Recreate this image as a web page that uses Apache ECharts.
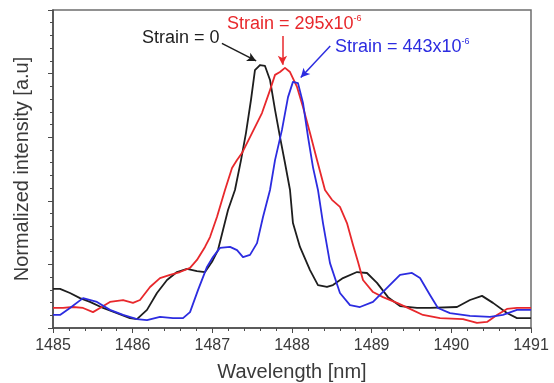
<!DOCTYPE html>
<html>
<head>
<meta charset="utf-8">
<script src="https://cdn.jsdelivr.net/npm/echarts@6/dist/echarts.min.js"></script>
<style>
  html, body { margin: 0; padding: 0; background: #fff; }
  #chart { width: 554px; height: 383px; }
</style>
</head>
<body>
<div id="chart"></div>
<script>
// wavelength [nm], normalized intensity
const strain0 = [
  [1485, 0.123], [1485.088, 0.123], [1485.213, 0.110], [1485.339, 0.094], [1485.464, 0.082],
  [1485.628, 0.063], [1485.803, 0.047], [1485.966, 0.031], [1486.054, 0.028], [1486.18, 0.057],
  [1486.305, 0.110], [1486.431, 0.151], [1486.556, 0.176], [1486.682, 0.186], [1486.807, 0.179],
  [1486.908, 0.176], [1486.996, 0.208], [1487.071, 0.245], [1487.134, 0.308], [1487.197, 0.371],
  [1487.284, 0.434], [1487.36, 0.528], [1487.422, 0.613], [1487.485, 0.717], [1487.535, 0.811],
  [1487.598, 0.827], [1487.661, 0.824], [1487.724, 0.780], [1487.787, 0.686], [1487.849, 0.601],
  [1487.912, 0.519], [1487.975, 0.434], [1488.012, 0.330], [1488.1, 0.255], [1488.226, 0.182],
  [1488.326, 0.135], [1488.439, 0.129], [1488.514, 0.135], [1488.64, 0.157], [1488.816, 0.176],
  [1488.941, 0.173], [1489.067, 0.142], [1489.205, 0.097], [1489.356, 0.069], [1489.569, 0.063],
  [1489.732, 0.063], [1490.071, 0.066], [1490.234, 0.088], [1490.385, 0.101], [1490.523, 0.079],
  [1490.698, 0.047], [1490.824, 0.031], [1491, 0.031]
]

const strain295 = [
  [1485, 0.063], [1485.126, 0.063], [1485.251, 0.066], [1485.377, 0.063], [1485.502, 0.050],
  [1485.59, 0.063], [1485.715, 0.082], [1485.879, 0.088], [1486.004, 0.079], [1486.092, 0.088],
  [1486.218, 0.129], [1486.343, 0.157], [1486.469, 0.167], [1486.594, 0.176], [1486.72, 0.189],
  [1486.807, 0.214], [1486.908, 0.255], [1486.971, 0.286], [1487.058, 0.349], [1487.159, 0.434],
  [1487.247, 0.503], [1487.31, 0.528], [1487.372, 0.550], [1487.498, 0.613], [1487.623, 0.676],
  [1487.724, 0.748], [1487.787, 0.796], [1487.849, 0.805], [1487.912, 0.818], [1487.975, 0.805],
  [1488.063, 0.758], [1488.138, 0.695], [1488.226, 0.613], [1488.314, 0.528], [1488.414, 0.434],
  [1488.502, 0.403], [1488.602, 0.381], [1488.69, 0.330], [1488.766, 0.261], [1488.828, 0.208],
  [1488.891, 0.151], [1489.017, 0.113], [1489.142, 0.097], [1489.318, 0.079], [1489.481, 0.060],
  [1489.644, 0.041], [1489.858, 0.031], [1490.146, 0.028], [1490.322, 0.016], [1490.448, 0.019],
  [1490.573, 0.041], [1490.698, 0.060], [1490.824, 0.063], [1491, 0.063]
]

const strain443 = [
  [1485, 0.041], [1485.088, 0.041], [1485.213, 0.063], [1485.377, 0.094], [1485.552, 0.082],
  [1485.715, 0.057], [1485.879, 0.041], [1486.054, 0.028], [1486.18, 0.025], [1486.343, 0.035],
  [1486.506, 0.031], [1486.632, 0.031], [1486.72, 0.050], [1486.82, 0.119], [1486.933, 0.192],
  [1487.008, 0.223], [1487.096, 0.252], [1487.222, 0.255], [1487.31, 0.245], [1487.385, 0.223],
  [1487.473, 0.230], [1487.561, 0.267], [1487.636, 0.349], [1487.724, 0.434], [1487.787, 0.528],
  [1487.874, 0.623], [1487.95, 0.726], [1488.012, 0.774], [1488.075, 0.770], [1488.138, 0.708],
  [1488.201, 0.601], [1488.263, 0.506], [1488.326, 0.434], [1488.389, 0.330], [1488.477, 0.204],
  [1488.602, 0.110], [1488.728, 0.072], [1488.853, 0.066], [1489.017, 0.082], [1489.205, 0.129],
  [1489.356, 0.167], [1489.506, 0.173], [1489.607, 0.157], [1489.732, 0.104], [1489.832, 0.063],
  [1489.983, 0.047], [1490.234, 0.038], [1490.485, 0.035], [1490.648, 0.041], [1490.824, 0.057],
  [1491, 0.057]
]

// annotation arrows: [from, to] in data coords
const arrow0 = [[1487.12, 0.895], [1487.55, 0.840]]
const arrow295 = [[1487.88, 0.918], [1487.88, 0.828]]
const arrow443 = [[1488.48, 0.887], [1488.11, 0.788]]

const FONT = 'Liberation Sans, Arial, sans-serif'
const BLACK = '#1e1e1e'
const RED = '#e8282c'
const BLUE = '#2c2ce0'

function arrowLine(pts, color) {
  return {
    silent: true,
    symbol: ['none', 'arrow'],
    symbolSize: [7, 9],
    label: { show: false },
    lineStyle: { color: color, width: 1.5, type: 'solid' },
    data: [[{ coord: pts[0] }, { coord: pts[1] }]]
  }
}

function curve(name, data, color, arrow) {
  return {
    name: name,
    type: 'line',
    data: data,
    showSymbol: false,
    smooth: false,
    lineStyle: { color: color, width: 1.8, join: 'round' },
    itemStyle: { color: color },
    markLine: arrowLine(arrow, color),
    z: 3
  }
}

function supLabel(text, color) {
  return {
    text: '{m|' + text + '}{s|-6}',
    rich: {
      m: { fontSize: 18, fontFamily: FONT, fill: color, lineHeight: 20 },
      s: { fontSize: 9, fontFamily: FONT, fill: color, lineHeight: 10, verticalAlign: 'top' }
    },
    fill: color,
    fontFamily: FONT
  }
}

const chart = echarts.init(document.getElementById('chart'))

chart.setOption({
  animation: false,
  backgroundColor: '#fff',
  grid: {
    left: 53, right: 23, top: 10, bottom: 55,
    outerBoundsMode: 'none',
    show: true, borderColor: '#6e6e6e', borderWidth: 1.5
  },
  xAxis: {
    type: 'value',
    min: 1485,
    max: 1491,
    interval: 1,
    name: 'Wavelength [nm]',
    nameLocation: 'middle',
    nameGap: 34,
    nameTextStyle: { fontSize: 20, fontFamily: FONT, color: '#3a3a3a' },
    axisLine: { lineStyle: { color: '#4a4a4a', width: 1.5 } },
    axisTick: { length: 5, lineStyle: { color: '#4a4a4a' } },
    minorTick: { show: true, splitNumber: 5, length: 3, lineStyle: { color: '#4a4a4a' } },
    axisLabel: { fontSize: 16, fontFamily: FONT, color: '#3a3a3a', margin: 10, formatter: v => String(v) },
    splitLine: { show: false }
  },
  yAxis: {
    type: 'value',
    min: 0,
    max: 1,
    interval: 0.2,
    name: 'Normalized intensity [a.u]',
    nameLocation: 'middle',
    nameGap: 21,
    nameTextStyle: { fontSize: 20, fontFamily: FONT, color: '#3a3a3a' },
    axisLine: { show: true, lineStyle: { color: '#4a4a4a', width: 1.5 } },
    axisTick: { length: 5, lineStyle: { color: '#4a4a4a' } },
    minorTick: { show: true, splitNumber: 5, length: 3, lineStyle: { color: '#4a4a4a' } },
    axisLabel: { show: false },
    splitLine: { show: false }
  },
  series: [
    curve('Strain = 0', strain0, BLACK, arrow0),
    curve('Strain = 295x10-6', strain295, RED, arrow295),
    curve('Strain = 443x10-6', strain443, BLUE, arrow443)
  ],
  graphic: [
    { type: 'text', left: 142, top: 29, style: { text: 'Strain = 0', fontSize: 18, fontFamily: FONT, fill: BLACK } },
    { type: 'text', left: 227, top: 14, style: supLabel('Strain = 295x10', RED) },
    { type: 'text', left: 335, top: 37, style: supLabel('Strain = 443x10', BLUE) }
  ]
})
</script>
</body>
</html>
